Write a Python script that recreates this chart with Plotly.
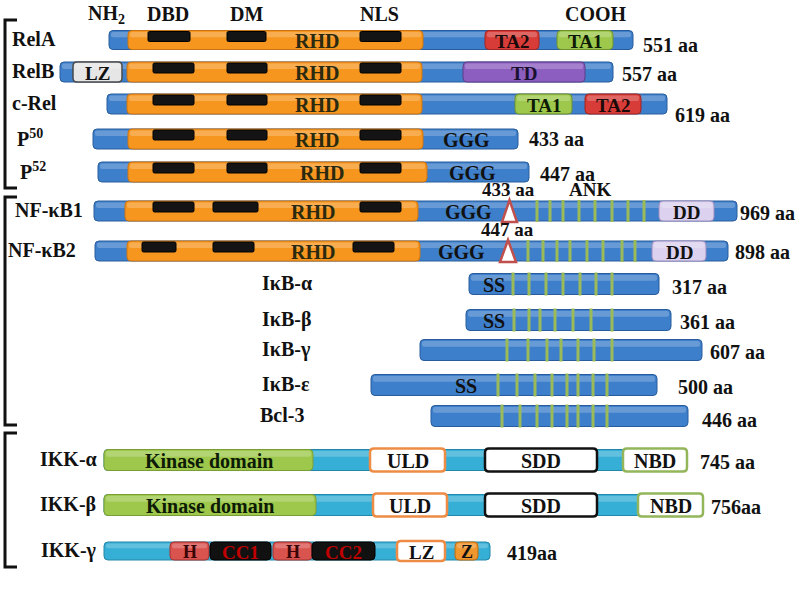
import plotly.graph_objects as go

# ---------------- data ----------------
proteins = ["RelA", "RelB", "c-Rel", "P<sup>50</sup>", "P<sup>52</sup>", "NF-κB1", "NF-κB2",
            "IκB-α", "IκB-β", "IκB-γ", "IκB-ε", "Bcl-3", "IKK-α", "IKK-β", "IKK-γ"]
length_labels = ["551 aa", "557 aa", "619 aa", "433 aa", "447 aa", "969 aa", "898 aa",
                 "317 aa", "361 aa", "607 aa", "500 aa", "446 aa", "745 aa", "756aa", "419aa"]
# bar extents in drawing units
bar_start = [109, 60, 107, 93, 98, 94, 95, 469, 466, 420, 371, 431, 104, 104, 104]
bar_end = [633, 613, 667, 518, 529, 737, 728, 659, 671, 702, 657, 688, 684, 700, 490]
family = ["nf"] * 12 + ["ikk"] * 3

# domains: (row, start, end, kind, label)
domains = [
    (0, 128, 423, "rhd", ""), (0, 485, 539, "ta2", "TA2"), (0, 557, 613, "ta1", "TA1"),
    (1, 73, 122, "lzg", "LZ"), (1, 127, 422, "rhd", ""), (1, 463, 585, "td", "TD"),
    (2, 127, 422, "rhd", ""), (2, 515, 572, "ta1", "TA1"), (2, 585, 641, "ta2", "TA2"),
    (3, 128, 423, "rhd", ""),
    (4, 128, 427, "rhd", ""),
    (5, 125, 418, "rhd", ""), (5, 659, 714, "dd", "DD"),
    (6, 127, 420, "rhd", ""), (6, 652, 706, "dd", "DD"),
    (12, 104, 313, "kin", "Kinase domain"), (12, 370, 445, "uld", "ULD"),
    (12, 485, 597, "sdd", "SDD"), (12, 623, 687, "nbd", "NBD"),
    (13, 104, 316, "kin", "Kinase domain"), (13, 373, 447, "uld", "ULD"),
    (13, 485, 597, "sdd", "SDD"), (13, 638, 703, "nbd", "NBD"),
    (14, 170, 209, "h", "H"), (14, 210, 271, "cc", "CC1"), (14, 273, 312, "h", "H"),
    (14, 312, 375, "cc", "CC2"), (14, 397, 445, "lzo", "LZ"), (14, 455, 478, "z", "Z"),
]
# DBD / DM / NLS motifs (row, start, end)
motifs = [
    (0, 148, 190), (0, 227, 266), (0, 360, 401),
    (1, 153, 194), (1, 227, 267), (1, 360, 401),
    (2, 153, 194), (2, 227, 267), (2, 360, 401),
    (3, 153, 194), (3, 227, 267), (3, 360, 401),
    (4, 153, 194), (4, 227, 267), (4, 360, 401),
    (5, 153, 194), (5, 213, 258), (5, 360, 401),
    (6, 142, 176), (6, 213, 254), (6, 353, 394),
]
rhd_label_at = [317, 317, 317, 317, 322, 313, 313]
# ankyrin repeats per row
ank_repeats = {
    5: [537, 550, 563, 579, 595, 612, 628, 644],
    6: [528, 543, 557, 570, 587, 603, 622, 635],
    7: [513, 529, 546, 563, 580, 596, 612],
    8: [514, 529, 540, 555, 573, 591, 612],
    9: [507, 528, 547, 561, 578, 594, 612],
    10: [498, 517, 535, 552, 567, 578, 593, 607],
    11: [502, 520, 537, 552, 567, 578, 593, 607],
}
# plain in-bar labels (row, x, text)
inline_labels = [(3, 466, "GGG"), (4, 472, "GGG"), (5, 468, "GGG"), (6, 461, "GGG"),
                 (7, 494, "SS"), (8, 494, "SS"), (10, 466, "SS")]
# processing sites (row, start, end, label)
cleavage = [(5, 502, 517, "433 aa"), (6, 500, 516, "447 aa")]
headers = ["NH<sub>2</sub>", "DBD", "DM", "NLS", "COOH"]
header_at = [106, 168, 246, 379, 596]

# ---------------- layout helpers ----------------
row_y = [40, 72, 104, 139, 172, 211, 251, 284, 320, 350, 385, 416, 460, 505, 551]
row_h = [19, 20, 20, 20, 20, 20, 20, 21, 21, 21, 21, 21, 21, 21, 18]
name_x = [11, 11, 11, 16, 19, 14, 7, 261, 261, 261, 261, 259, 98, 97, 98]
name_anchor = ["left"] * 12 + ["right"] * 3
len_x = [642, 621, 674, 528, 539, 739, 734, 671, 679, 709, 677, 701, 699, 710, 506]
len_dy = [3, 0, 9, -2, 0, 0, -1, 1, 0, 0, 0, 2, 0, 0, 0]

FONT = "Liberation Serif"
styles = {
    "rhd": dict(fill="#F7961F", line="#C77417", w=1, tc="#2a2a10"),
    "ta2": dict(fill="#D83C38", line="#9E2522", w=1, tc="#1a0a0a"),
    "ta1": dict(fill="#9DC84B", line="#6E8F30", w=1, tc="#0d1a05"),
    "td": dict(fill="#8C5EBF", line="#5F3D88", w=1, tc="#1a1030"),
    "lzg": dict(fill="#E6E6E6", line="#4a4a4a", w=1.5, tc="#111"),
    "dd": dict(fill="#DCD1EF", line="#9C8CBB", w=1, tc="#111"),
    "kin": dict(fill="#9DC84B", line="#7A9E36", w=1, tc="#0d1a05"),
    "uld": dict(fill="#FFFFFF", line="#EE8C45", w=2.5, tc="#111"),
    "sdd": dict(fill="#FFFFFF", line="#111111", w=2.5, tc="#111"),
    "nbd": dict(fill="#FFFFFF", line="#93B65A", w=2.5, tc="#111"),
    "h": dict(fill="#D9534F", line="#A33532", w=1, tc="#3a0505"),
    "cc": dict(fill="#111111", line="#000000", w=1, tc="#C00000"),
    "lzo": dict(fill="#FFFFFF", line="#EE8C45", w=2.5, tc="#111"),
    "z": dict(fill="#F0962E", line="#B86A15", w=1, tc="#111"),
}
bar_fill = {"nf": "#3E7FCB", "ikk": "#36AFD6"}
bar_line = {"nf": "#285C9C", "ikk": "#2287A8"}


def rrect(x0, x1, y0, y1, r):
    r = min(r, (x1 - x0) / 2, (y1 - y0) / 2)
    return (f"M {x0 + r},{y0} L {x1 - r},{y0} Q {x1},{y0} {x1},{y0 + r} "
            f"L {x1},{y1 - r} Q {x1},{y1} {x1 - r},{y1} L {x0 + r},{y1} "
            f"Q {x0},{y1} {x0},{y1 - r} L {x0},{y0 + r} Q {x0},{y0} {x0 + r},{y0} Z")


shapes = []
annotations = []


def text(x, y, s, size=20, color="#111", xanchor="center"):
    annotations.append(dict(x=x, y=y, text=s, showarrow=False, xanchor=xanchor, yanchor="middle",
                            borderpad=0,
                            font=dict(family=FONT, size=size, color=color, weight="bold")))


def gloss(x0, x1, y0, h):
    shapes.append(dict(type="path", path=rrect(x0 + 2, x1 - 2, y0 + 1.5, y0 + h * 0.35, 2),
                       fillcolor="rgba(255,255,255,0.22)", line=dict(width=0), layer="above"))


# base bars
for i in range(len(proteins)):
    y0 = row_y[i] - row_h[i] / 2
    y1 = row_y[i] + row_h[i] / 2
    fam = family[i]
    shapes.append(dict(type="path", path=rrect(bar_start[i], bar_end[i], y0, y1, 4),
                       fillcolor=bar_fill[fam], line=dict(color=bar_line[fam], width=1), layer="above"))
    gloss(bar_start[i], bar_end[i], y0, row_h[i])

# domains
for (r, x0, x1, kind, lab) in domains:
    st = styles[kind]
    y0 = row_y[r] - row_h[r] / 2
    y1 = row_y[r] + row_h[r] / 2
    if kind in ("uld", "sdd", "nbd", "lzo"):
        y0 -= 1
        y1 += 1
    shapes.append(dict(type="path", path=rrect(x0, x1, y0, y1, 4), fillcolor=st["fill"],
                       line=dict(color=st["line"], width=st["w"]), layer="above"))
    if st["fill"] != "#FFFFFF" and kind != "cc":
        gloss(x0, x1, y0, row_h[r])
    if lab:
        sz = 20 if kind in ("kin", "uld", "sdd", "nbd") else 19
        if kind in ("h", "z"):
            sz = 18
        text((x0 + x1) / 2, row_y[r] + 1, lab, size=sz, color=st["tc"])

# RHD labels
for r, xl in enumerate(rhd_label_at):
    text(xl, row_y[r] + 1, "RHD", size=20, color="#2a2a10")

# DBD/DM/NLS motifs
for (r, x0, x1) in motifs:
    y0 = row_y[r] - row_h[r] / 2 + 1
    shapes.append(dict(type="path", path=rrect(x0, x1, y0, y0 + 10, 1.5), fillcolor="#141414",
                       line=dict(color="#000", width=1), layer="above"))

# ankyrin repeats
for r, xs in ank_repeats.items():
    y0 = row_y[r] - row_h[r] / 2
    y1 = row_y[r] + row_h[r] / 2
    for x in xs:
        shapes.append(dict(type="line", x0=x, x1=x, y0=y0 - 1, y1=y1 + 1,
                           line=dict(color="#9BBB59", width=3), layer="above"))

# in-bar plain labels
for (r, x, s) in inline_labels:
    text(x, row_y[r] + 1, s, size=20)

# processing sites
for (r, x0, x1, s) in cleavage:
    y0 = row_y[r] - row_h[r] / 2 - 1
    y1 = row_y[r] + row_h[r] / 2 + 1
    xm = (x0 + x1) / 2
    shapes.append(dict(type="path", path=f"M {x0},{y1} L {xm},{y0} L {x1},{y1} Z",
                       fillcolor="#FFFFFF", line=dict(color="#C0504D", width=2.5), layer="above"))
    text(xm - 1, y0 - 11, s, size=19)
text(590, 189, "ANK", size=19)

# names and lengths
for i in range(len(proteins)):
    text(name_x[i], row_y[i] - 1, proteins[i], size=20, xanchor=name_anchor[i])
    text(len_x[i], row_y[i] + 2 + len_dy[i], length_labels[i], size=20, xanchor="left")

# headers
for s, x in zip(headers, header_at):
    text(x, 14, s, size=20)

# brackets
for (ya, yb) in [(20, 188), (197, 425), (433, 567)]:
    shapes.append(dict(type="path", path=f"M 17,{ya} L 5,{ya} L 5,{yb} L 17,{yb}",
                       line=dict(color="#111", width=3), layer="above"))

fig = go.Figure()
fig.update_layout(
    width=800, height=600, margin=dict(l=0, r=0, t=0, b=0),
    paper_bgcolor="white", plot_bgcolor="white",
    xaxis=dict(range=[0, 800], visible=False, fixedrange=True),
    yaxis=dict(range=[600, 0], visible=False, fixedrange=True),
    shapes=shapes, annotations=annotations, showlegend=False,
)
fig.write_html("out.html", config={"displayModeBar": False},
               post_script="document.body.style.margin='0';document.body.style.overflow='hidden';")
